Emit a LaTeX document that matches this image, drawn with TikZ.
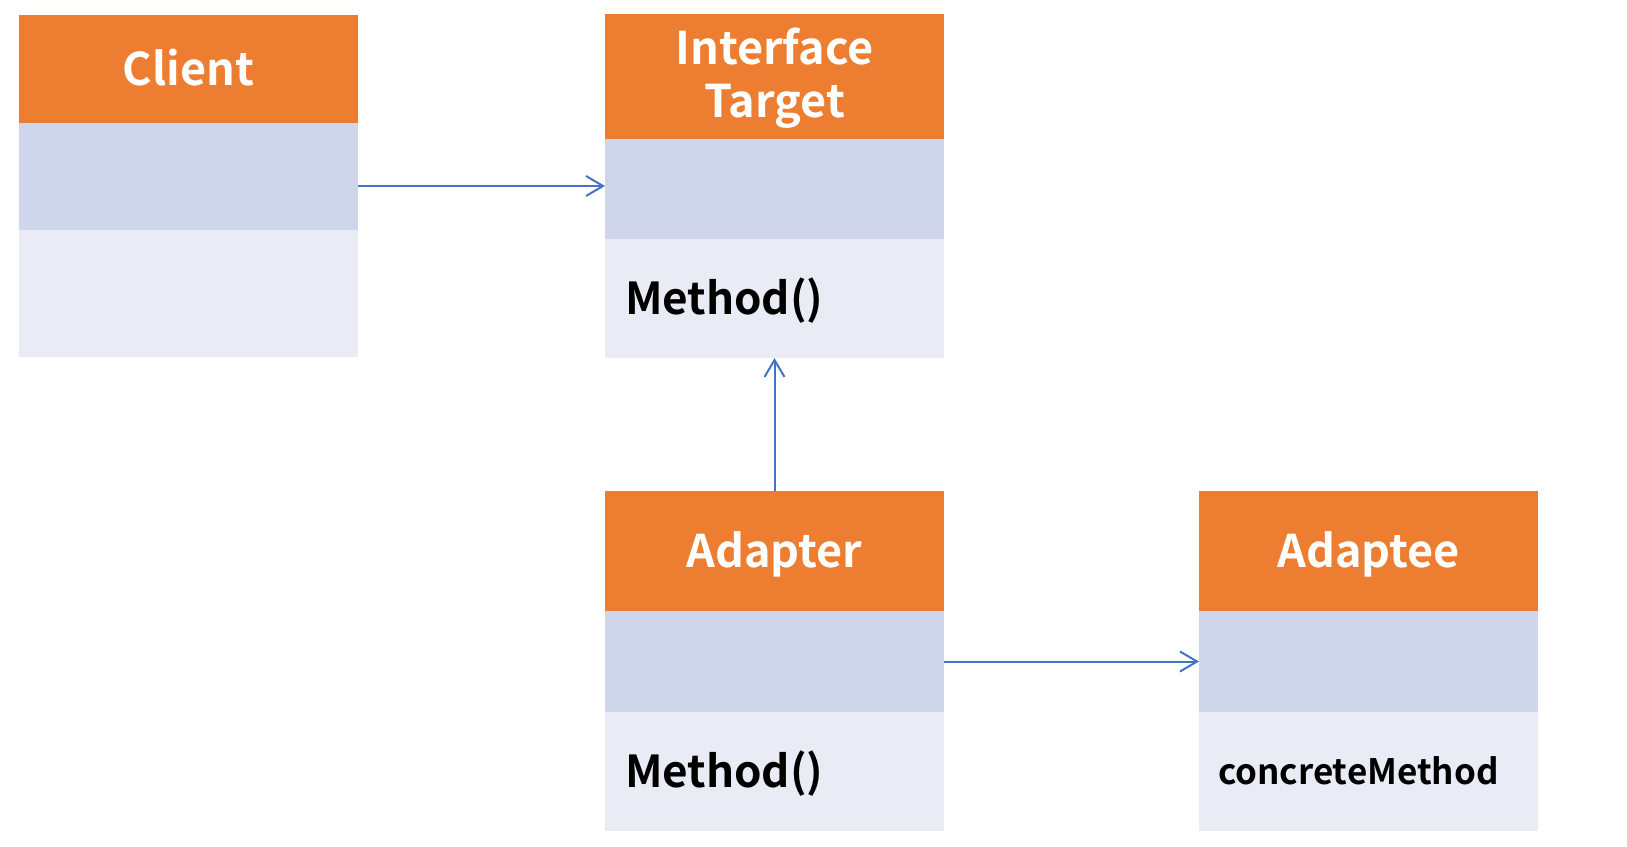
\documentclass[tikz,border=0pt]{standalone}
\usepackage{fontspec}
\setmainfont{Noto Sans CJK SC}[BoldFont={Noto Sans CJK SC Bold}]
\usetikzlibrary{positioning}
\usetikzlibrary{arrows.meta}

\definecolor{headorange}{HTML}{ED7D31}
\definecolor{attrblue}{HTML}{CFD5EA}
\definecolor{opsblue}{HTML}{E9EBF5}
\definecolor{linkblue}{HTML}{4472C4}

\begin{document}
\begin{tikzpicture}[x=1pt, y=-1pt,
    every node/.style={inner sep=0pt, outer sep=0pt},
    classhead/.style={fill=headorange, text=white, minimum width=339pt,
      text height=40pt, text depth=7pt, font=\bfseries\fontsize{45}{45}\selectfont},
    classattr/.style={fill=attrblue, minimum width=339pt},
    classops/.style={fill=opsblue, text width=299pt, inner xsep=20pt, align=left,
      text height=38pt, text depth=6pt, font=\bfseries\fontsize{44}{44}\selectfont},
    link/.style={draw=linkblue, line width=2pt,
      -{Straight Barb[length=17pt, width=20pt, line width=2pt]}}
  ]

    \useasboundingbox (0,0) rectangle (1627,846);

    % client class
    \node[classhead, anchor=north west, minimum height=108pt] (client-head) at (19,15) {Client};
    \node[classattr, minimum height=107pt, below=0pt of client-head] (client-attr) {};
    \node[fill=opsblue, minimum width=339pt, minimum height=127pt, below=0pt of client-attr] (client-ops) {};

    % target interface
    \node[fill=headorange, text=white, minimum width=339pt, anchor=north west,
      minimum height=125pt, align=center, font=\bfseries\fontsize{45}{53}\selectfont]
      (target-head) at (605,14) {\rule{0pt}{40pt}Interface\\Target\rule[-10pt]{0pt}{10pt}};
    \node[classattr, minimum height=100pt, below=0pt of target-head] (target-attr) {};
    \node[classops, minimum height=119pt, below=0pt of target-attr] (target-ops) {Method()};

    % adapter class
    \node[classhead, anchor=north west, minimum height=120pt] (adapter-head) at (605,491) {Adapter};
    \node[classattr, minimum height=101pt, below=0pt of adapter-head] (adapter-attr) {};
    \node[classops, minimum height=119pt, below=0pt of adapter-attr] (adapter-ops) {Method()};

    % adaptee class
    \node[classhead, anchor=north west, minimum height=120pt] (adaptee-head) at (1199,491) {Adaptee};
    \node[classattr, minimum height=101pt, below=0pt of adaptee-head] (adaptee-attr) {};
    \node[classops, minimum height=119pt, inner xsep=19pt, text width=301pt,
      text height=30pt, text depth=4.5pt, font=\bfseries\fontsize{35}{35}\selectfont,
      below=0pt of adaptee-attr] (adaptee-ops) {concreteMethod};

    % associations
    \draw[link] ([yshift=3pt]client-attr.east |- target-attr.west) -- ([yshift=3pt]target-attr.west);
    \draw[link] (adapter-head.north) -- (target-ops.south);
    \draw[link] (adapter-attr.east) -- (adaptee-attr.west);

\end{tikzpicture}
\end{document}
